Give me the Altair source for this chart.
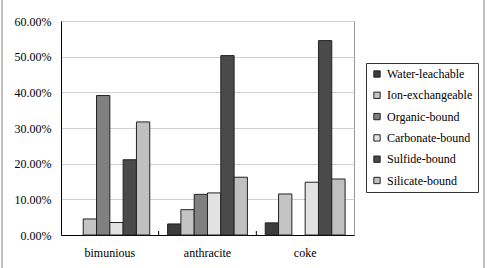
import altair as alt
import pandas as pd

categories = ["bimunious", "anthracite", "coke"]
series = ["Water-leachable", "Ion-exchangeable", "Organic-bound",
          "Carbonate-bound", "Sulfide-bound", "Silicate-bound"]
colors = ["#3c3c3c", "#c4c4c4", "#808080", "#e2e2e2", "#4a4a4a", "#c0c0c0"]
values = {
    "Water-leachable":  [0.000, 0.031, 0.034],
    "Ion-exchangeable": [0.045, 0.071, 0.115],
    "Organic-bound":    [0.391, 0.114, 0.000],
    "Carbonate-bound":  [0.035, 0.118, 0.148],
    "Sulfide-bound":    [0.211, 0.503, 0.545],
    "Silicate-bound":   [0.317, 0.162, 0.157],
}
y_ticks = [0, 0.1, 0.2, 0.3, 0.4, 0.5, 0.6]

rows = []
for s in series:
    for c, v in zip(categories, values[s]):
        if v > 0:
            rows.append({"cat": c, "series": s, "value": v})
df = pd.DataFrame(rows)

FONT = "Liberation Serif"
W, H = 293, 214

bars = alt.Chart(df).mark_bar(stroke="#222222", strokeWidth=1).encode(
    x=alt.X("cat:N", sort=categories,
            scale=alt.Scale(domain=categories, paddingInner=0, paddingOuter=0),
            axis=alt.Axis(title=None, labelAngle=0,
                          labelFontSize=12, labelColor="#000",
                          labelPadding=12, ticks=False,
                          domainColor="#000", domainWidth=1)),
    xOffset=alt.XOffset("series:N", sort=series,
                        scale=alt.Scale(domain=series, paddingInner=0, paddingOuter=0.67)),
    y=alt.Y("value:Q",
            scale=alt.Scale(domain=[0, 0.6], nice=False),
            axis=alt.Axis(title=None, format=".2%", values=y_ticks,
                          labelFontSize=12, labelColor="#000",
                          labelPadding=10, ticks=False,
                          domainColor="#000", domainWidth=1,
                          gridColor="#d0d0d0", gridWidth=1)),
    color=alt.Color("series:N", sort=series,
                    scale=alt.Scale(domain=series, range=colors),
                    legend=alt.Legend(
                        title=None, orient="none", legendX=305, legendY=42,
                        direction="vertical",
                        strokeColor="#333333", padding=5,
                        symbolType="square", symbolSize=40,
                        symbolStrokeColor="#222222", symbolStrokeWidth=1,
                        labelFontSize=12, labelColor="#000",
                        labelOffset=4, rowPadding=9.3, symbolOffset=0,
                        labelLimit=200)),
)

ticks_df = pd.DataFrame({"cat": ["anthracite", "coke"]})
cat_ticks = alt.Chart(ticks_df).mark_rule(color="#000", strokeWidth=1).encode(
    x=alt.X("cat:N", sort=categories, bandPosition=0),
    y=alt.value(H - 4), y2=alt.value(H),
)

frame_df = pd.DataFrame({"side": ["left", "right"], "px": [-59, 423]})
frame = alt.Chart(frame_df).mark_rule(color="#aaaaaa", strokeWidth=1.5).encode(
    x=alt.X("px:Q", scale=None),
    y=alt.value(-21), y2=alt.value(247),
)

chart = alt.layer(bars, cat_ticks, frame).properties(
    width=W, height=H,
    autosize=alt.AutoSizeParams(type="none"),
    padding={"left": 61, "top": 21, "right": 136, "bottom": 33},
    background="white",
).configure(font=FONT).configure_axis(labelFont=FONT).configure_legend(
    labelFont=FONT
).configure_view(stroke="#999999", strokeWidth=1)

chart.save("out.html", embed_options={"renderer": "svg", "actions": False})
